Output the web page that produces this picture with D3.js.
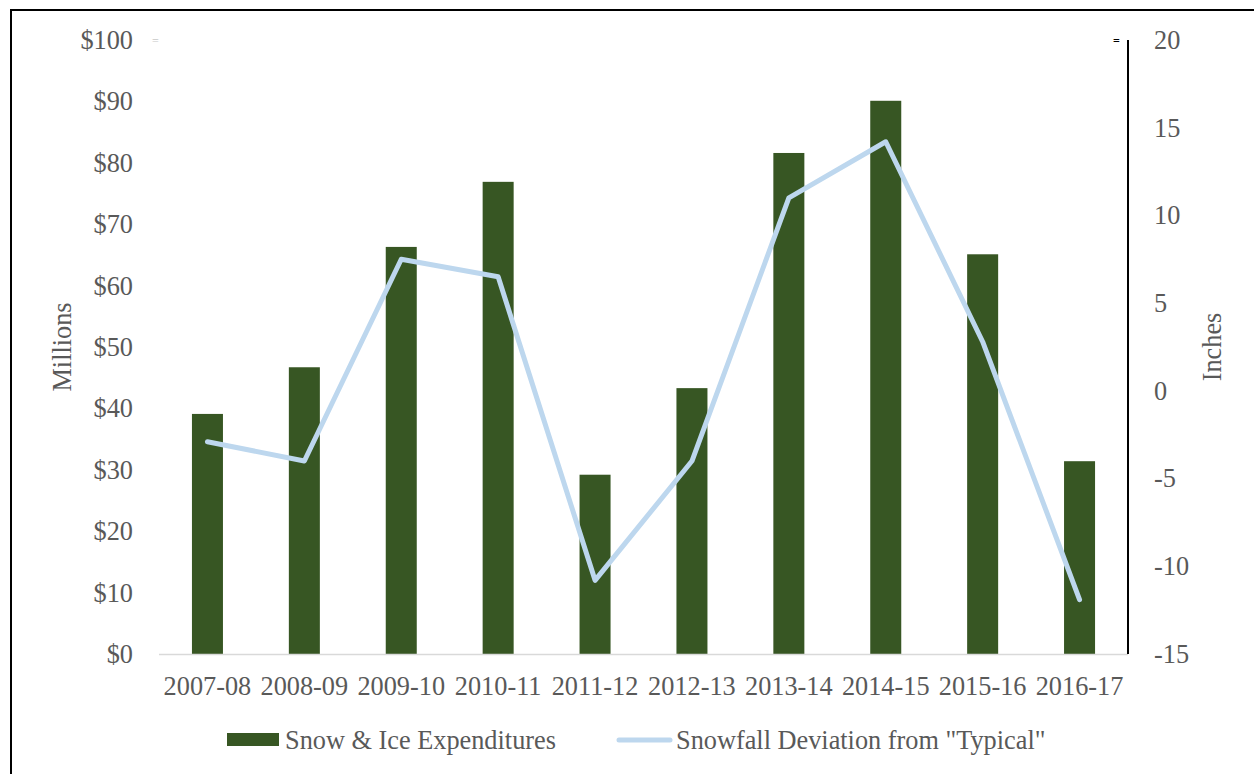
<!DOCTYPE html>
<meta charset="utf-8">
<style>
    body { margin: 0; background: #fff; }
    text { font-family: "Liberation Serif", "Times New Roman", serif; fill: #595959; }
</style>
<body>
<svg width="1254" height="774"></svg>
<script src="https://d3js.org/d3.v7.min.js"></script>
<script>
    var seasons = ["2007-08", "2008-09", "2009-10", "2010-11", "2011-12", "2012-13", "2013-14", "2014-15", "2015-16", "2016-17"];
    var expenditures = [39.1, 46.7, 66.3, 76.9, 29.2, 43.3, 81.6, 90.1, 65.1, 31.4];
    var snowDeviation = [-2.9, -4.0, 7.5, 6.5, -10.8, -4.0, 11.0, 14.2, 2.8, -11.9];
    var moneyTicks = [0, 10, 20, 30, 40, 50, 60, 70, 80, 90, 100];
    var inchTicks = [-15, -10, -5, 0, 5, 10, 15, 20];

    var svg = d3.select("svg");
    var fontSize = "26.3px";

    // outer chart border
    svg.append("rect")
        .attr("x", 11).attr("y", 10)
        .attr("width", 1260).attr("height", 780)
        .attr("fill", "none").attr("stroke", "#000").attr("stroke-width", 2);

    var plotLeft = 159, plotRight = 1128, plotTop = 40, plotBottom = 654;

    var x = d3.scaleBand().domain(seasons).range([plotLeft, plotRight]).paddingInner(0.68).paddingOuter(0.34);
    var yL = d3.scaleLinear().domain([0, 100]).range([plotBottom, plotTop]);
    var yR = d3.scaleLinear().domain([-15, 20]).range([plotBottom, plotTop]);

    // bars
    svg.append("g").selectAll("rect")
        .data(expenditures)
        .enter().append("rect")
        .attr("x", function(d, i) { return x(seasons[i]); })
        .attr("width", x.bandwidth())
        .attr("y", function(d) { return yL(d); })
        .attr("height", function(d) { return plotBottom - yL(d); })
        .attr("fill", "#375623");

    // baseline
    svg.append("line")
        .attr("x1", plotLeft).attr("x2", plotRight)
        .attr("y1", plotBottom + 0.5).attr("y2", plotBottom + 0.5)
        .attr("stroke", "#d9d9d9").attr("stroke-width", 1.5);

    // right axis line
    svg.append("line")
        .attr("x1", plotRight).attr("x2", plotRight)
        .attr("y1", plotTop).attr("y2", plotBottom)
        .attr("stroke", "#000").attr("stroke-width", 2);

    // line series
    var line = d3.line()
        .x(function(d, i) { return x(seasons[i]) + x.bandwidth() / 2; })
        .y(function(d) { return yR(d); });

    svg.append("path")
        .datum(snowDeviation)
        .attr("d", line)
        .attr("fill", "none")
        .attr("stroke", "#bdd7ee")
        .attr("stroke-width", 5)
        .attr("stroke-linejoin", "round")
        .attr("stroke-linecap", "round");

    function styleTicks(g) {
        g.select(".domain").remove();
        g.selectAll("text")
            .style("font-size", fontSize)
            .style("font-family", '"Liberation Serif", serif')
            .style("fill", "#595959");
    }

    // left axis
    svg.append("g").attr("transform", "translate(" + (plotLeft - 23) + ",0)")
        .call(d3.axisLeft(yL).tickValues(moneyTicks).tickSize(0).tickFormat(function(d) { return "$" + d; }))
        .call(styleTicks);

    // right axis
    svg.append("g").attr("transform", "translate(" + (plotRight + 23) + ",0)")
        .call(d3.axisRight(yR).tickValues(inchTicks).tickSize(0).tickFormat(function(d) { return String(d); }))
        .call(styleTicks);

    // x axis labels
    svg.append("g").attr("transform", "translate(0," + (plotBottom + 19) + ")")
        .call(d3.axisBottom(x).tickSize(0))
        .call(styleTicks);

    // small leftover marks near the top ticks
    svg.append("text").attr("x", 152).attr("y", 45).text("=")
        .style("font-size", "12px").style("fill", "#c8c8c8");
    svg.append("text").attr("x", 1113).attr("y", 45).text("=")
        .style("font-size", "12px").style("fill", "#000").style("font-weight", "bold");

    // axis titles
    svg.append("text")
        .attr("transform", "translate(71,347) rotate(-90)")
        .attr("text-anchor", "middle")
        .style("font-size", fontSize)
        .text("Millions");
    svg.append("text")
        .attr("transform", "translate(1221,347) rotate(-90)")
        .attr("text-anchor", "middle")
        .style("font-size", fontSize)
        .text("Inches");

    // legend
    var legend = svg.append("g");
    legend.append("rect")
        .attr("x", 227).attr("y", 733).attr("width", 52).attr("height", 13)
        .attr("fill", "#375623");
    legend.append("text").attr("x", 285).attr("y", 749)
        .style("font-size", fontSize).text("Snow & Ice Expenditures");
    legend.append("line")
        .attr("x1", 619).attr("x2", 670).attr("y1", 740).attr("y2", 740)
        .attr("stroke", "#bdd7ee").attr("stroke-width", 5).attr("stroke-linecap", "round");
    legend.append("text").attr("x", 676).attr("y", 749)
        .style("font-size", fontSize).text("Snowfall Deviation from \"Typical\"");
</script>
</body>
